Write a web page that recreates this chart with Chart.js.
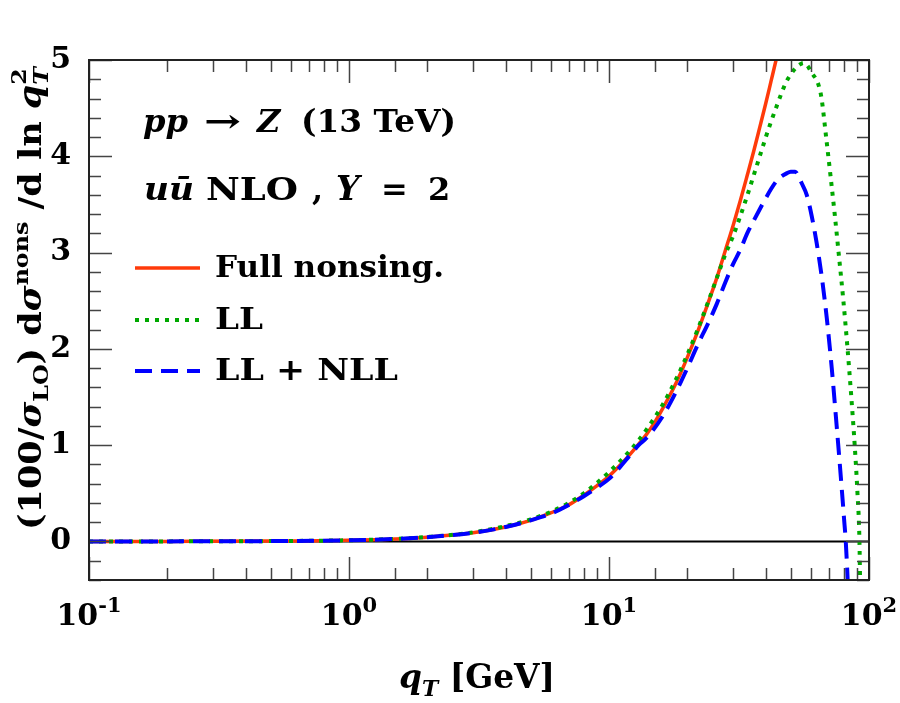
<!DOCTYPE html>
<html>
<head>
<meta charset="utf-8">
<script src="https://cdn.jsdelivr.net/npm/chart.js@4.4.0/dist/chart.umd.min.js"></script>
<style>
  html, body { margin: 0; padding: 0; background: #fff; }
  #wrap { width: 900px; height: 703px; }
</style>
</head>
<body>
<div id="wrap"><canvas id="myChart"></canvas></div>
<script>
// q_T values [GeV] and curves
var redQT  = [0.1, 0.2, 0.5, 1, 1.5, 2, 3, 4, 5, 6, 7, 8, 9, 10, 11, 12, 13, 14, 15, 16, 18, 20, 22, 24, 26, 28, 30, 32, 34, 36, 38, 40, 42, 44, 46];
var redVal = [0.0, 0.001, 0.004, 0.012, 0.026, 0.045, 0.09, 0.15, 0.22, 0.30, 0.38, 0.48, 0.58, 0.68, 0.79, 0.90, 1.01, 1.12, 1.24, 1.37, 1.63, 1.91, 2.19, 2.47, 2.74, 3.02, 3.28, 3.54, 3.80, 4.05, 4.30, 4.54, 4.78, 5.01, 5.24];

var greenQT  = [0.1, 0.2, 0.5, 1, 1.5, 2, 3, 4, 5, 6, 7, 8, 9, 10, 11, 12, 13, 14, 16, 18, 20, 22, 24, 26, 28, 30, 32, 34, 36, 38, 40, 42, 44, 46, 48, 50, 52, 54, 56, 58, 60.1, 63.8, 65.7, 68.4, 71.1, 73.8, 76.4, 79.7, 82.7, 85.5, 88.1, 90.3, 91.9, 92.5];
var greenVal = [0.0, 0.001, 0.004, 0.013, 0.027, 0.047, 0.095, 0.16, 0.23, 0.31, 0.40, 0.50, 0.61, 0.72, 0.83, 0.94, 1.05, 1.17, 1.41, 1.67, 1.94, 2.21, 2.48, 2.74, 2.98, 3.17, 3.38, 3.59, 3.80, 4.00, 4.19, 4.36, 4.51, 4.65, 4.77, 4.85, 4.91, 4.95, 4.97, 4.94, 4.87, 4.75, 4.60, 4.20, 3.80, 3.40, 3.00, 2.50, 2.00, 1.50, 1.00, 0.50, 0.0, -0.5];

var blueQT  = [0.1, 0.2, 0.5, 1, 1.5, 2, 3, 4, 5, 6, 7, 8, 9, 10, 11, 12, 13, 14, 16, 18, 20, 22, 24, 26, 28, 30, 32, 34, 36, 38, 40, 42, 44, 46, 48, 50, 52, 54, 55.1, 57.6, 60.2, 62.9, 65.8, 68.8, 71.9, 75.1, 78.5, 80.1, 81.4, 82.3, 83.1];
var blueVal = [0.0, 0.001, 0.004, 0.012, 0.026, 0.045, 0.09, 0.15, 0.22, 0.29, 0.38, 0.47, 0.56, 0.65, 0.77, 0.89, 1.00, 1.08, 1.29, 1.54, 1.80, 2.05, 2.26, 2.47, 2.69, 2.88, 3.03, 3.20, 3.33, 3.45, 3.56, 3.66, 3.74, 3.79, 3.82, 3.84, 3.84, 3.77, 3.72, 3.60, 3.38, 3.10, 2.75, 2.32, 1.80, 1.20, 0.56, 0.25, 0.0, -0.25, -0.5];

var seriesNames = ['Full nonsing.', 'LL', 'LL + NLL'];
var yTickLabels = ['0', '1', '2', '3', '4', '5'];
var xTickExps = ['-1', '0', '1', '2'];

var SERIF = '"DejaVu Serif", "Liberation Serif", serif';

function pts(xs, ys) {
    return xs.map(function(x, i) { return { x: x, y: ys[i] }; });
}

function setFont(ctx, s) {
    ctx.font = (s.it ? 'italic ' : '') + (s.w || 'bold') + ' ' + s.s + 'px ' + SERIF;
}

// draw a run of text pieces, each with its own font and baseline shift
function drawRich(ctx, segs, x, y, measureOnly) {
    var cx = x;
    segs.forEach(function(s) {
        if (s.stack) {
            var w = 0;
            s.stack.forEach(function(t) {
                setFont(ctx, t);
                if (!measureOnly) ctx.fillText(t.t, cx, y + (t.dy || 0));
                w = Math.max(w, ctx.measureText(t.t).width);
            });
            cx += w;
        } else {
            setFont(ctx, s);
            if (!measureOnly) ctx.fillText(s.t, cx, y + (s.dy || 0));
            cx += ctx.measureText(s.t).width;
        }
    });
    return cx - x;
}

// same, stretched along the baseline to fill [x0, x1]
function drawFit(ctx, segs, x0, x1, y) {
    var w = drawRich(ctx, segs, 0, 0, true);
    ctx.save();
    ctx.translate(x0, y);
    ctx.scale((x1 - x0) / w, 1);
    drawRich(ctx, segs, 0, 0);
    ctx.restore();
}

var decor = {
    id: 'decor',
    beforeDatasetsDraw: function(chart) {
        var ctx = chart.ctx, a = chart.chartArea;
        var y0 = chart.scales.y.getPixelForValue(0);
        ctx.save();
        ctx.strokeStyle = '#000';
        ctx.lineWidth = 2;
        ctx.beginPath();
        ctx.moveTo(a.left, y0);
        ctx.lineTo(a.right, y0);
        ctx.stroke();
        ctx.restore();
    },
    afterDatasetsDraw: function(chart) {
        var ctx = chart.ctx, a = chart.chartArea;
        var xs = chart.scales.x, ys = chart.scales.y;
        ctx.save();
        ctx.strokeStyle = '#444';
        ctx.lineWidth = 1.5;
        ctx.beginPath();
        xs.ticks.forEach(function(t) {
            var e = Math.log10(t.value);
            var len = Math.abs(e - Math.round(e)) < 1e-6 ? 23 : 12;
            var px = Math.round(xs.getPixelForValue(t.value)) + 0.5;
            ctx.moveTo(px, a.bottom); ctx.lineTo(px, a.bottom - len);
            ctx.moveTo(px, a.top); ctx.lineTo(px, a.top + len);
        });
        ys.ticks.forEach(function(t) {
            var len = Math.abs(t.value - Math.round(t.value)) < 1e-6 ? 23 : 12;
            var py = Math.round(ys.getPixelForValue(t.value)) + 0.5;
            ctx.moveTo(a.left, py); ctx.lineTo(a.left + len, py);
            ctx.moveTo(a.right, py); ctx.lineTo(a.right - len, py);
        });
        ctx.stroke();
        ctx.strokeStyle = '#222';
        ctx.lineWidth = 2;
        ctx.strokeRect(a.left, a.top, a.right - a.left, a.bottom - a.top);
        ctx.restore();
    },
    afterDraw: function(chart) {
        var ctx = chart.ctx, a = chart.chartArea;
        ctx.save();
        ctx.fillStyle = '#000';
        ctx.textBaseline = 'alphabetic';
        ctx.textAlign = 'left';

        // x tick labels 10^n at the decades
        chart.scales.x.ticks.forEach(function(t) {
            var e = Math.log10(t.value);
            if (Math.abs(e - Math.round(e)) > 1e-6) return;
            var segs = [
                { t: '10', s: 30 },
                { t: xTickExps[Math.round(e) + 1], s: 21, dy: -13 }
            ];
            var w = drawRich(ctx, segs, 0, 0, true);
            drawRich(ctx, segs, chart.scales.x.getPixelForValue(t.value) - w / 2, 625);
        });

        // process labels
        drawFit(ctx, [{ t: 'pp', it: true, s: 32 }], 143, 188, 132);
        drawFit(ctx, [{ t: '\u2192', s: 32 }], 204, 241, 132);
        drawRich(ctx, [{ t: 'Z', it: true, s: 32 }], 257, 132);
        drawFit(ctx, [{ t: '(13 TeV)', s: 32 }], 301, 456, 132);

        drawFit(ctx, [{ t: 'u\u016B', it: true, s: 32 }], 144, 194, 200);
        drawFit(ctx, [{ t: 'NLO', s: 32 }], 206, 298, 200);
        drawRich(ctx, [{ t: ',', s: 32 }], 312, 200);
        drawRich(ctx, [{ t: 'Y', it: true, s: 33 }], 336, 200);
        drawRich(ctx, [{ t: '=', s: 32 }], 381, 200);
        drawRich(ctx, [{ t: '2', s: 32 }], 428, 200);

        // legend
        var lx0 = 135, lx1 = 200, tx = 215;
        var base = [277, 329, 380];
        var textEnd = [444, 263, 398];
        chart.data.datasets.forEach(function(ds, i) {
            ctx.save();
            ctx.strokeStyle = ds.borderColor;
            ctx.lineWidth = ds.borderWidth;
            ctx.setLineDash(ds.borderDash || []);
            ctx.beginPath();
            ctx.moveTo(lx0, base[i] - 9);
            ctx.lineTo(lx1, base[i] - 9);
            ctx.stroke();
            ctx.restore();
            drawFit(ctx, [{ t: seriesNames[i], s: 30 }], tx, textEnd[i], base[i]);
        });

        // y axis title, stretched along its length to the span of the original
        var ysegs = [
            { t: '(100/', s: 31 },
            { t: '\u03C3', it: true, s: 31 },
            { t: 'LO', s: 21, dy: 7 },
            { t: ') d', s: 31 },
            { t: '\u03C3', it: true, s: 31 },
            { t: 'nons', s: 21, dy: -13 },
            { t: ' /d ln ', s: 31 },
            { t: 'q', it: true, s: 31 },
            { stack: [{ t: 'T', it: true, s: 21, dy: 7 }, { t: '2', s: 21, dy: -15 }] }
        ];
        ctx.save();
        ctx.translate(41, 530);
        ctx.rotate(-Math.PI / 2);
        drawFit(ctx, ysegs, 0, 463, 0);
        ctx.restore();

        // x axis title
        drawFit(ctx, [
            { t: 'q', it: true, s: 33 },
            { t: 'T', it: true, s: 22, dy: 8 },
            { t: ' [GeV]', s: 33 }
        ], 399, 555, 688);
        ctx.restore();
    }
};

var ctx = document.getElementById('myChart').getContext('2d');
var myChart = new Chart(ctx, {
    type: 'line',
    data: {
        datasets: [
            {
                label: seriesNames[0],
                data: pts(redQT, redVal),
                borderColor: '#ff3a0a',
                borderWidth: 3.5,
                order: 3
            },
            {
                label: seriesNames[1],
                data: pts(greenQT, greenVal),
                borderColor: '#00a800',
                borderWidth: 4,
                borderDash: [4, 6],
                order: 2
            },
            {
                label: seriesNames[2],
                data: pts(blueQT, blueVal),
                borderColor: '#0000ff',
                borderWidth: 4,
                borderDash: [17, 9],
                order: 1
            }
        ]
    },
    options: {
        responsive: true,
        maintainAspectRatio: false,
        animation: false,
        layout: { padding: { left: 0, top: 60, right: 31, bottom: 0 } },
        elements: {
            point: { radius: 0 },
            line: { cubicInterpolationMode: 'monotone', fill: false }
        },
        datasets: { line: { clip: 0 } },
        plugins: {
            legend: { display: false },
            tooltip: { enabled: false }
        },
        scales: {
            x: {
                type: 'logarithmic',
                min: 0.1,
                max: 100,
                grid: { display: false, drawTicks: false },
                border: { display: false },
                afterFit: function(scale) {
                    scale.height = 123;
                    scale.paddingLeft = 0;
                    scale.paddingRight = 0;
                },
                ticks: { display: false, autoSkip: false, maxRotation: 0 }
            },
            y: {
                min: -0.4,
                max: 5,
                grid: { display: false, drawTicks: false },
                border: { display: false },
                afterFit: function(scale) { scale.width = 89; },
                ticks: {
                    stepSize: 0.2,
                    autoSkip: false,
                    padding: 18,
                    color: '#000',
                    font: { family: SERIF, size: 30, weight: 'bold' },
                    callback: function(value) {
                        if (Math.abs(value - Math.round(value)) < 1e-6) return yTickLabels[Math.round(value)];
                        return '';
                    }
                }
            }
        }
    },
    plugins: [decor]
});
</script>
</body>
</html>
